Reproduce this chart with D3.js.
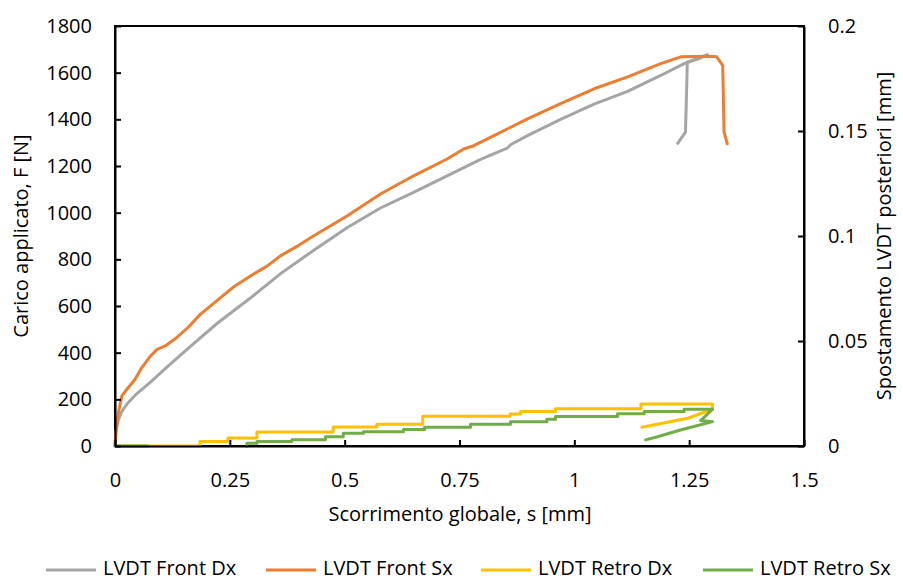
<!DOCTYPE html>
<html>
<head>
<meta charset="utf-8">
<script src="https://cdn.jsdelivr.net/npm/d3@7"></script>
<style>
  html, body { margin: 0; padding: 0; background: #fff; }
  svg { display: block; }
  text { font-family: "Open Sans", sans-serif; fill: #000; }
</style>
</head>
<body>
<svg id="chart" width="903" height="580"></svg>
<script>
// ---------------- DATA ----------------
// X tick labels (Scorrimento globale, s [mm])
const xTicks = [0, 0.25, 0.5, 0.75, 1, 1.25, 1.5];
const yLeftTicks = [0, 200, 400, 600, 800, 1000, 1200, 1400, 1600, 1800];
const yRightTicks = [0, 0.05, 0.1, 0.15, 0.2];

// LVDT Front Dx (left axis, F [N])
const frontDxS = [0, 0.002, 0.006, 0.014, 0.026, 0.045, 0.076, 0.113, 0.163, 0.222, 0.294, 0.36, 0.432, 0.505, 0.578, 0.65, 0.723, 0.796, 0.855, 0.862, 0.898, 0.97, 1.043, 1.116, 1.188, 1.239, 1.275, 1.29, 1.246, 1.242, 1.225];
const frontDxF = [0, 60, 105, 145, 180, 220, 272, 338, 425, 525, 633, 738, 838, 935, 1020, 1087, 1158, 1228, 1278, 1292, 1330, 1400, 1465, 1520, 1588, 1639, 1663, 1677, 1645, 1345, 1297];

// LVDT Front Sx (left axis, F [N])
const frontSxS = [0, 0.002, 0.007, 0.015, 0.025, 0.043, 0.058, 0.075, 0.091, 0.11, 0.134, 0.16, 0.185, 0.22, 0.257, 0.3, 0.331, 0.36, 0.4, 0.432, 0.505, 0.578, 0.65, 0.723, 0.759, 0.781, 0.825, 0.898, 0.97, 1.043, 1.116, 1.188, 1.232, 1.297, 1.31, 1.323, 1.326, 1.333];
const frontSxF = [0, 60, 140, 215, 241, 284, 335, 380, 413, 430, 464, 510, 563, 620, 680, 735, 771, 815, 860, 900, 986, 1080, 1158, 1230, 1273, 1287, 1330, 1402, 1467, 1531, 1582, 1639, 1668, 1670, 1668, 1631, 1345, 1295];

// LVDT Retro Dx (right axis, mm)
const retroDxS = [0, 0.185, 0.185, 0.246, 0.246, 0.309, 0.309, 0.475, 0.475, 0.570, 0.570, 0.670, 0.670, 0.860, 0.860, 0.883, 0.883, 0.959, 0.959, 1.145, 1.145, 1.301, 1.301, 1.247, 1.147];
const retroDxV = [0, 0, 0.0021, 0.0021, 0.0038, 0.0038, 0.0067, 0.0067, 0.0090, 0.0090, 0.0104, 0.0104, 0.0142, 0.0142, 0.0152, 0.0152, 0.0164, 0.0164, 0.0177, 0.0177, 0.0200, 0.0200, 0.0175, 0.0132, 0.0089];

// LVDT Retro Sx (right axis, mm) — null marks a gap in the trace
const retroSxS = [0, 0.072, 0.1, 0.287, 0.287, 0.309, 0.309, 0.385, 0.385, 0.458, 0.458, 0.497, 0.497, 0.541, 0.541, 0.628, 0.628, 0.674, 0.674, 0.774, 0.774, 0.861, 0.861, 0.940, 0.940, 0.959, 0.959, 1.094, 1.094, 1.152, 1.152, 1.239, 1.239, 1.301, 1.275, 1.301, 1.231, 1.181, 1.155];
const retroSxV = [0, 0, null, 0, 0.0013, 0.0013, 0.0021, 0.0021, 0.0030, 0.0030, 0.0044, 0.0044, 0.0061, 0.0061, 0.0068, 0.0068, 0.0078, 0.0078, 0.0089, 0.0089, 0.0104, 0.0104, 0.0115, 0.0115, 0.0127, 0.0127, 0.0140, 0.0140, 0.0153, 0.0153, 0.0164, 0.0164, 0.0175, 0.0175, 0.0121, 0.0116, 0.0076, 0.0044, 0.0029];

const seriesNames = ["LVDT Front Dx", "LVDT Front Sx", "LVDT Retro Dx", "LVDT Retro Sx"];
const seriesColors = ["#A5A5A5", "#ED7D31", "#FFC000", "#70AD47"];

// ---------------- CHART ----------------
const svg = d3.select("#chart");
const L = 115, R = 804, T = 26, B = 446;
const fs = 20;

const x = d3.scaleLinear().domain([0, 1.5]).range([L, R]);
const yL = d3.scaleLinear().domain([0, 1800]).range([B, T]);
const yR = d3.scaleLinear().domain([0, 0.2]).range([B, T]);

const zip = (a, b) => a.map((d, i) => ({ s: d, v: b[i] }));
const series = [
  { data: zip(frontDxS, frontDxF), y: yL },
  { data: zip(frontSxS, frontSxF), y: yL },
  { data: zip(retroDxS, retroDxV), y: yR },
  { data: zip(retroSxS, retroSxV), y: yR }
];

// plot border
svg.append("rect").attr("x", L).attr("y", T).attr("width", R - L).attr("height", B - T)
  .attr("fill", "none").attr("stroke", "#000").attr("stroke-width", 2);

series.forEach((sr, i) => {
  const line = d3.line()
    .defined(d => d.v !== null)
    .x(d => x(d.s)).y(d => sr.y(d.v));
  svg.append("path").datum(sr.data)
    .attr("fill", "none")
    .attr("stroke", seriesColors[i])
    .attr("stroke-width", 3)
    .attr("stroke-linejoin", "round")
    .attr("stroke-linecap", "round")
    .attr("d", line);
});

const fmt = d => String(d);

const gx = svg.append("g").attr("transform", `translate(0,${B})`)
  .call(d3.axisBottom(x).tickValues(xTicks).tickFormat(fmt).tickSizeInner(-6).tickSizeOuter(0).tickPadding(27));
const gl = svg.append("g").attr("transform", `translate(${L},0)`)
  .call(d3.axisLeft(yL).tickValues(yLeftTicks).tickFormat(fmt).tickSizeInner(-6).tickSizeOuter(0).tickPadding(23));
const gr = svg.append("g").attr("transform", `translate(${R},0)`)
  .call(d3.axisRight(yR).tickValues(yRightTicks).tickFormat(fmt).tickSizeInner(-6).tickSizeOuter(0).tickPadding(24));

[gx, gl, gr].forEach(g => {
  g.selectAll(".domain").attr("stroke", "#000").attr("stroke-width", 2);
  g.selectAll(".tick line").attr("stroke", "#000").attr("stroke-width", 2);
  g.selectAll(".tick text").attr("font-size", fs).attr("font-family", "Open Sans").attr("fill", "#000");
});

// axis titles
svg.append("text").attr("x", 460).attr("y", 516).attr("text-anchor", "middle")
  .attr("dominant-baseline", "middle").attr("font-size", fs).text("Scorrimento globale, s [mm]");
svg.append("text").attr("transform", `translate(23,236) rotate(-90)`).attr("text-anchor", "middle")
  .attr("dominant-baseline", "middle").attr("font-size", fs).text("Carico applicato, F [N]");
svg.append("text").attr("transform", `translate(886,236) rotate(-90)`).attr("text-anchor", "middle")
  .attr("dominant-baseline", "middle").attr("font-size", fs).text("Spostamento LVDT posteriori [mm]");

// legend
const legX = [46, 266, 481, 703];
const legY = 570;
const leg = svg.append("g");
seriesNames.forEach((n, i) => {
  leg.append("line").attr("x1", legX[i]).attr("x2", legX[i] + 50).attr("y1", legY).attr("y2", legY)
    .attr("stroke", seriesColors[i]).attr("stroke-width", 3);
  leg.append("text").attr("x", legX[i] + 57).attr("y", legY).attr("dominant-baseline", "middle")
    .attr("font-size", fs).text(n);
});
</script>
</body>
</html>
